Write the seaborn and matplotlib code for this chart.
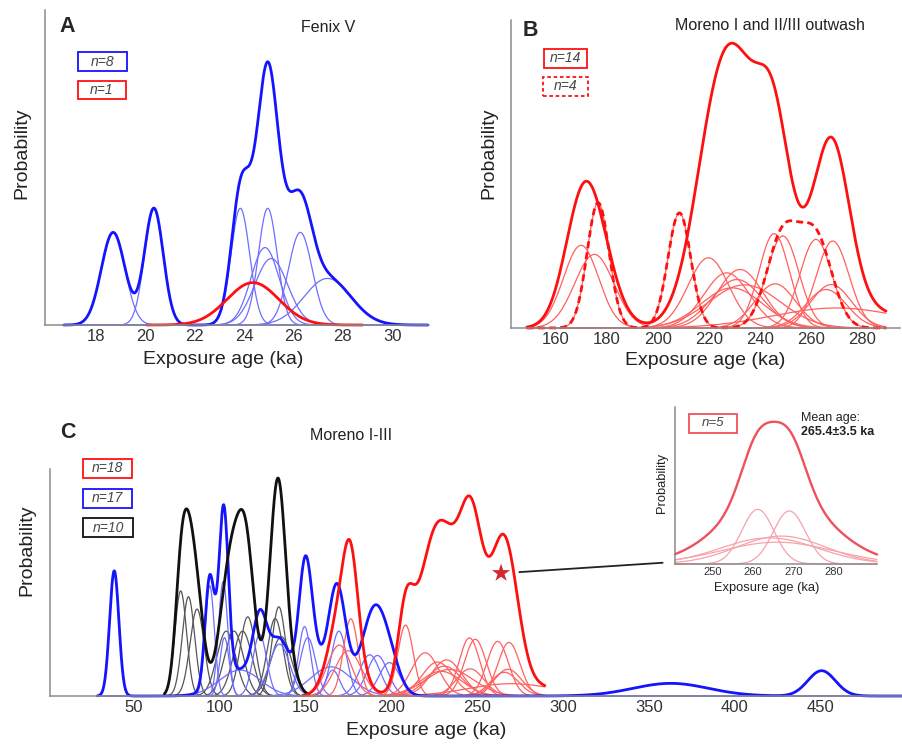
import numpy as np
import matplotlib.pyplot as plt
import seaborn as sns
from matplotlib.patches import Rectangle, ConnectionPatch

# ---- Panel A: Fenix V (age ka, 1 sigma ka, peak height in y-tick units)
A_BLUE_AGE = [18.7, 20.35, 23.85, 24.96, 24.85, 25.1, 26.28, 27.38]
A_BLUE_SIG = [0.48, 0.38, 0.38, 0.38, 0.57, 0.665, 0.48, 0.95]
A_BLUE_H = [1.77, 2.23, 2.23, 2.23, 1.48, 1.27, 1.77, 0.89]
A_RED_AGE = [24.36]
A_RED_SIG = [1.05]
A_RED_H = [0.81]
A_XTICKS = [18, 20, 22, 24, 26, 28, 30]

# ---- Panel B: Moreno I (solid, n=14) and II/III outwash (dashed, n=4)
B_SOLID_AGE = [169.8, 175.0, 219.8, 227.0, 229.0, 231.0, 232.2, 234.0, 245.6, 246.0, 268.6, 268.0, 266.0, 270.0]
B_SOLID_SIG = [6.9, 7.7, 8.0, 9.0, 12.0, 10.0, 9.0, 14.0, 5.95, 8.0, 6.4, 8.0, 8.0, 25.0]
B_SOLID_H = [0.805, 0.717, 0.684, 0.537, 0.391, 0.472, 0.570, 0.42, 0.919, 0.43, 0.847, 0.423, 0.375, 0.195]
B_DASH_AGE = [176.5, 208.4, 249.0, 262.0]
B_DASH_SIG = [4.3, 4.5, 6.3, 6.3]
B_DASH_H = [1.221, 1.121, 0.896, 0.863]
B_XTICKS = [160, 180, 200, 220, 240, 260, 280]

# ---- Panel C: Moreno I-III
C_BLUE_AGE = [38.8, 94.4, 102.2, 103.0, 112.0, 123.5, 135.0, 149.6, 151.5, 165.0, 166.0, 169.6, 187.5, 192.0, 199.0, 362.8, 450.6]
C_BLUE_SIG = [2.7, 2.7, 2.7, 2.7, 12.0, 4.0, 6.0, 3.5, 4.5, 12.0, 4.0, 4.5, 6.0, 6.0, 6.0, 22.0, 8.0]
C_BLUE_H = [3.86, 3.4, 3.53, 1.8, 0.8, 1.9, 1.6, 2.14, 1.8, 0.9, 0.8, 2.0, 1.27, 1.25, 1.03, 0.39, 0.78]
C_BLACK_AGE = [77.5, 82.0, 87.0, 104.0, 108.5, 113.5, 116.5, 132.5, 134.6, 136.0]
C_BLACK_SIG = [3.4, 3.6, 4.1, 5.5, 5.5, 5.5, 4.5, 4.6, 4.0, 6.0]
C_BLACK_H = [3.24, 3.06, 2.68, 2.0, 2.0, 2.0, 2.44, 2.39, 2.75, 1.83]
C_RED_SCALE = 1.95  # red group = panel B samples, drawn on panel C's y scale
C_XTICKS = [50, 100, 150, 200, 250, 300, 350, 400, 450]
STAR_AGE = [264.0]
STAR_P = [3.79]

# ---- Inset: n=5 boulders around 265 ka
IN_AGE = [261.2, 269.0, 267.0, 264.0, 266.0]
IN_SIG = [4.0, 4.0, 11.0, 12.0, 14.0]
IN_H = [3.13, 3.04, 1.6, 1.5, 1.25]
IN_XTICKS = [250, 260, 270, 280]

BLUE, BLUE_THIN = '#1414ff', '#6e6eff'
RED, RED_THIN = '#ff1010', '#ff6060'
BLACK, BLACK_THIN = '#111111', '#555555'
IN_SUM, IN_THIN = '#f0505c', '#f6a3aa'
W, H = 903, 745


def gauss_set(ages, sigs, heights, lo, hi, scale=1.0, n=1400):
    x = np.linspace(lo, hi, n)
    comps = [scale * h * np.exp(-0.5 * ((x - a) / s) ** 2) for a, s, h in zip(ages, sigs, heights)]
    return x, comps


def line(ax, x, y, color, lw, ls='-', alpha=1.0):
    sns.lineplot(x=x, y=y, ax=ax, color=color, lw=lw, linestyle=ls, alpha=alpha,
                 estimator=None, sort=False, clip_on=False)


def frame(px_left, px_top, px_right, px_bottom):
    return [px_left / W, 1 - px_bottom / H, (px_right - px_left) / W, (px_bottom - px_top) / H]


def style_axes(ax, xlim, ylim, xticks, yticks, fs=12):
    ax.set_xlim(*xlim)
    ax.set_ylim(*ylim)
    ax.set_xticks(xticks)
    ax.set_yticks(yticks)
    ax.set_yticklabels([])
    sns.despine(ax=ax)
    for s in ['left', 'bottom']:
        ax.spines[s].set_color('#8c8c8c')
        ax.spines[s].set_linewidth(1.1)
    ax.tick_params(direction='in', length=4, width=1, color='#8c8c8c',
                   labelcolor='#333333', labelsize=fs, pad=3)
    ax.patch.set_alpha(0)


def labels(ax, xl, yl, fs=14):
    ax.set_xlabel('Exposure age (ka)', fontsize=fs, color='#222222')
    ax.set_ylabel('Probability', fontsize=fs, color='#222222')
    ax.xaxis.set_label_coords(*xl)
    ax.yaxis.set_label_coords(*yl)
    ax.xaxis.label.set_verticalalignment('center')
    ax.yaxis.label.set_verticalalignment('center')


def tag(fig, x0, y0, x1, y1, txt, color, ls='-', fs=10):
    fig.add_artist(Rectangle((x0 / W, 1 - y1 / H), (x1 - x0) / W, (y1 - y0) / H,
                             transform=fig.transFigure, fill=False, edgecolor=color,
                             lw=1.3, linestyle=ls))
    fig.text((x0 + x1) / 2 / W, 1 - (y0 + y1) / 2 / H, txt, ha='center', va='center',
             style='italic', fontsize=fs, color='#444444')


def ftext(fig, x, y, txt, **kw):
    fig.text(x / W, 1 - y / H, txt, **kw)


sns.set_theme(style='white')
plt.rcParams['font.family'] = ['Liberation Sans', 'DejaVu Sans']

fig = plt.figure(figsize=(9.03, 7.45), dpi=100)

# ---------------- A
axA = fig.add_axes(frame(45, 10, 428, 325))
x, comps = gauss_set(A_BLUE_AGE, A_BLUE_SIG, A_BLUE_H, 16.7, 31.45)
for c in comps:
    line(axA, x, c, BLUE_THIN, 0.9)
line(axA, x, np.sum(comps, axis=0), BLUE, 2.0)
xr, rc = gauss_set(A_RED_AGE, A_RED_SIG, A_RED_H, 20.05, 28.8)
line(axA, xr, np.sum(rc, axis=0), RED, 2.0)
style_axes(axA, (15.94, 31.45), (0, 6.02), A_XTICKS, range(0, 7))
labels(axA, (0.4655, -0.111), (-0.060, 0.546))
ftext(fig, 67, 27, 'A', fontsize=15.5, fontweight='bold', ha='center', va='center')
ftext(fig, 328, 28, 'Fenix V', fontsize=11.5, ha='center', va='center', color='#222222')
tag(fig, 78, 52, 127, 71, 'n=8', BLUE)
tag(fig, 78, 81, 126, 99, 'n=1', RED)

# ---------------- B
axB = fig.add_axes(frame(511, 20, 900, 328))
x, sc = gauss_set(B_SOLID_AGE, B_SOLID_SIG, B_SOLID_H, 148.5, 289.5)
_, dc = gauss_set(B_DASH_AGE, B_DASH_SIG, B_DASH_H, 148.5, 289.5)
for c in sc + dc:
    line(axB, x, c, RED_THIN, 0.9)
line(axB, x, np.sum(sc, axis=0), RED, 2.0)
line(axB, x, np.sum(dc, axis=0), RED, 2.0, ls=(0, (2.5, 1.5)))
style_axes(axB, (142.3, 295), (0, 3.0), B_XTICKS, range(0, 4))
labels(axB, (0.50, -0.104), (-0.058, 0.568))
ftext(fig, 530, 30, 'B', fontsize=15.5, fontweight='bold', ha='center', va='center')
ftext(fig, 770, 25, 'Moreno I and II/III outwash', fontsize=11.5, ha='center', va='center', color='#222222')
tag(fig, 544, 49, 587, 68, 'n=14', RED)
tag(fig, 543, 77, 588, 96, 'n=4', RED, ls=(0, (2, 1.5)))

# ---------------- C
axC = fig.add_axes(frame(50, 469, 903, 696))
xk, kc = gauss_set(C_BLACK_AGE, C_BLACK_SIG, C_BLACK_H, 68, 152)
xb, bc = gauss_set(C_BLUE_AGE, C_BLUE_SIG, C_BLUE_H, 29, 498, n=2400)
xr, rcs = gauss_set(B_SOLID_AGE + B_DASH_AGE, B_SOLID_SIG + B_DASH_SIG, B_SOLID_H + B_DASH_H,
                    148.5, 289.5, scale=C_RED_SCALE)
for c in kc:
    line(axC, xk, c, BLACK_THIN, 0.9)
for c in bc:
    line(axC, xb, c, BLUE_THIN, 0.9)
for c in rcs:
    line(axC, xr, c, RED_THIN, 0.9)
line(axC, xb, np.sum(bc, axis=0), BLUE, 2.0)
line(axC, xk, np.sum(kc, axis=0), BLACK, 2.0)
line(axC, xr, np.sum(rcs, axis=0), RED, 2.0)
sns.scatterplot(x=STAR_AGE, y=STAR_P, ax=axC, marker='*', s=190, color='#d22630',
                edgecolor='none', zorder=5, clip_on=False)
style_axes(axC, (1.4, 498), (0, 7.0), C_XTICKS, range(0, 8))
labels(axC, (0.441, -0.154), (-0.027, 0.643))
ftext(fig, 67.5, 432, 'C', fontsize=15.5, fontweight='bold', ha='center', va='center')
ftext(fig, 351, 436, 'Moreno I-III', fontsize=11.5, ha='center', va='center', color='#222222')
tag(fig, 83, 459, 132, 478, 'n=18', RED)
tag(fig, 83, 489, 132, 508, 'n=17', BLUE)
tag(fig, 83, 518, 133, 537, 'n=10', BLACK)

# ---------------- inset
axI = fig.add_axes(frame(675, 407, 877, 564))
xi, ic = gauss_set(IN_AGE, IN_SIG, IN_H, 240.7, 290.7)
for c in ic:
    line(axI, xi, c, IN_THIN, 0.9)
line(axI, xi, np.sum(ic, axis=0), IN_SUM, 1.7)
style_axes(axI, (240.7, 290.7), (0, 9.0), IN_XTICKS, range(0, 10), fs=8)
axI.tick_params(length=2.5, pad=2)
labels(axI, (0.455, -0.154), (-0.066, 0.515), fs=9.3)
tag(fig, 689, 414, 737, 433, 'n=5', IN_SUM, fs=9.5)
ftext(fig, 801, 418, 'Mean age:', fontsize=9, ha='left', va='center', color='#222222')
ftext(fig, 801, 432, '265.4±3.5 ka', fontsize=9, fontweight='bold', ha='left', va='center', color='#222222')

con = ConnectionPatch(xyA=(274.6, 3.82), coordsA=axC.transData,
                      xyB=(-0.061, 0.008), coordsB=axI.transAxes,
                      color='#222222', lw=1.3)
fig.add_artist(con)

fig.savefig('out.png', dpi=100)
